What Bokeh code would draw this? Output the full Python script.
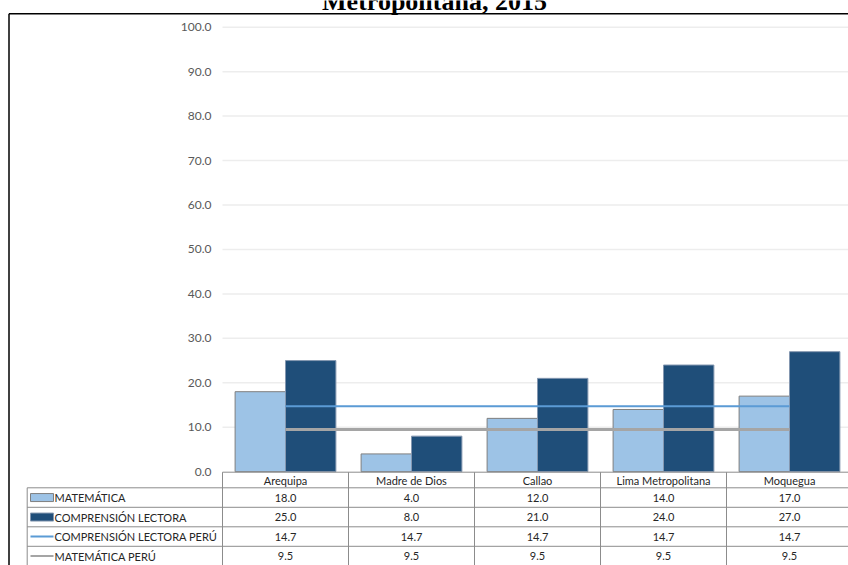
from bokeh.plotting import figure
from bokeh.models import Range1d
from bokeh.core.properties import value
from bokeh.embed import file_html
from bokeh.resources import INLINE

# ---------------- data ----------------
title_text = "Metropolitana, 2015"
regions = ["Arequipa", "Madre de Dios", "Callao", "Lima Metropolitana", "Moquegua"]
matematica = [18.0, 4.0, 12.0, 14.0, 17.0]
comprension = [25.0, 8.0, 21.0, 24.0, 27.0]
comprension_peru = [14.7, 14.7, 14.7, 14.7, 14.7]
matematica_peru = [9.5, 9.5, 9.5, 9.5, 9.5]
series_names = ["MATEMÁTICA", "COMPRENSIÓN LECTORA", "COMPRENSIÓN LECTORA PERÚ", "MATEMÁTICA PERÚ"]
y_ticks = [0, 10, 20, 30, 40, 50, 60, 70, 80, 90, 100]

# ---------------- styles ----------------
LIGHT = "#9DC3E6"
DARK = "#1F4E79"
BLUE_LINE = "#5B9BD5"
GRAY_LINE = "#A5A5A5"
FONT = "Lato"
TFS = "11px"

W, H = 848, 565
PX_X = 126.0      # pixels per category
PX_Y = 4.445      # pixels per value unit
X0_PX = 222.0     # page x of first category start
Y0_PX = 471.2     # page y of value 0


def X(px):
    return (px - X0_PX) / PX_X


def Y(py):
    return (Y0_PX - py) / PX_Y


p = figure(width=W, height=H, output_backend="svg", toolbar_location=None,
           x_range=Range1d(X(0), X(W)), y_range=Range1d(Y(H), Y(0)),
           min_border=0, x_axis_type=None, y_axis_type=None)
p.outline_line_color = None
p.xgrid.visible = False
p.ygrid.visible = False
p.background_fill_color = "white"

n = len(regions)
centers = [i + 0.5 for i in range(n)]
bw = 0.4

# gridlines (10..100)
grid_vals = [t for t in y_ticks if t > 0]
p.segment(x0=[0] * len(grid_vals), x1=[X(W + 10)] * len(grid_vals), y0=grid_vals, y1=grid_vals,
          line_color="#EDEDED", line_width=1.5)

# y tick labels
p.text(x=[X(211)] * len(y_ticks), y=y_ticks, text=["%.1f" % t for t in y_ticks],
       text_align="right", text_baseline="middle", text_font=value(FONT),
       text_font_size="12px", text_color="#595959")

# bars
p.vbar(x=[c - bw / 2 for c in centers], top=matematica, bottom=0, width=bw,
       fill_color=LIGHT, line_color="#7F7F7F", line_width=1)
p.vbar(x=[c + bw / 2 for c in centers], top=comprension, bottom=0, width=bw,
       fill_color=DARK, line_color="#8497B0", line_width=1)

# Peru lines
p.line(x=centers, y=comprension_peru, line_color=BLUE_LINE, line_width=2)
p.line(x=centers, y=matematica_peru, line_color=GRAY_LINE, line_width=3)

# ---------------- data table ----------------
TBL = "#8C8C8C"
row_px = [471.7, 487.3, 506.8, 526.3, 545.8, 565.3]
row_y = [Y(v) for v in row_px]
left_col = X(26.7)
right_end = X(W + 10)

# horizontal lines
p.segment(x0=[0], x1=[right_end], y0=[row_y[0]], y1=[row_y[0]], line_color=TBL, line_width=1)
hy = row_y[1:]
p.segment(x0=[left_col] * len(hy), x1=[right_end] * len(hy), y0=hy, y1=hy,
          line_color=TBL, line_width=1)
# vertical lines
vx = [float(i) for i in range(n + 1)]
p.segment(x0=vx, x1=vx, y0=[row_y[0]] * len(vx), y1=[row_y[-1]] * len(vx),
          line_color=TBL, line_width=1)
p.segment(x0=[left_col], x1=[left_col], y0=[row_y[1]], y1=[row_y[-1]],
          line_color=TBL, line_width=1)

# header
hdr_y = (row_y[0] + row_y[1]) / 2
p.text(x=centers, y=[hdr_y] * n, text=regions, text_align="center", text_baseline="middle",
       text_font=value(FONT), text_font_size=TFS, text_color="#262626")

series_vals = [matematica, comprension, comprension_peru, matematica_peru]
row_centers = [(row_y[k + 1] + row_y[k + 2]) / 2 for k in range(4)]
for k, vals in enumerate(series_vals):
    p.text(x=centers, y=[row_centers[k]] * n, text=["%.1f" % v for v in vals],
           text_align="center", text_baseline="middle", text_font=value(FONT),
           text_font_size=TFS, text_color="#262626")

# row labels
p.text(x=[X(54)] * 4, y=row_centers, text=series_names, text_align="left",
       text_baseline="middle", text_font=value(FONT), text_font_size=TFS,
       text_color="#262626")

# legend keys
kx0, kx1 = X(30), X(53)
kh = 8.0 / PX_Y
p.quad(left=[kx0], right=[kx1], bottom=[row_centers[0] - kh / 2], top=[row_centers[0] + kh / 2],
       fill_color=LIGHT, line_color="#7F7F7F", line_width=1)
p.quad(left=[kx0], right=[kx1], bottom=[row_centers[1] - kh / 2], top=[row_centers[1] + kh / 2],
       fill_color=DARK, line_color="#8497B0", line_width=1)
p.segment(x0=[kx0], x1=[kx1], y0=[row_centers[2]], y1=[row_centers[2]],
          line_color=BLUE_LINE, line_width=2)
p.segment(x0=[kx0], x1=[kx1], y0=[row_centers[3]], y1=[row_centers[3]],
          line_color=GRAY_LINE, line_width=2)

# outer frame (document box)
bx, by = X(8.5), Y(13.3)
p.segment(x0=[bx, bx], x1=[bx, X(W + 10)], y0=[Y(H + 10), by], y1=[by, by],
          line_color="black", line_width=1.5)

# title (its top is cut by the page edge, as in the source)
p.text(x=[X(434)], y=[Y(15.0)], text=[title_text], text_align="center",
       text_baseline="bottom", text_font=value("Liberation Serif"),
       text_font_style="bold", text_font_size="26px", text_color="black")

open("out.html", "w").write(file_html(p, INLINE))
